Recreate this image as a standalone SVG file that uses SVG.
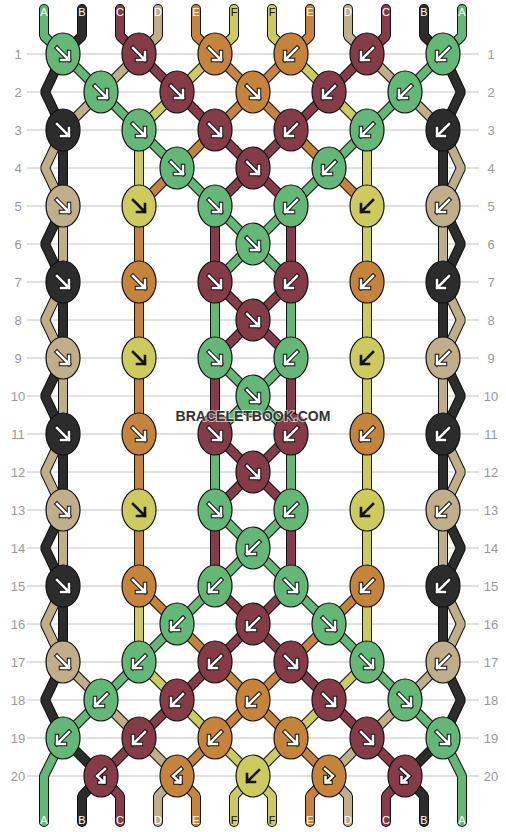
<svg xmlns="http://www.w3.org/2000/svg" xmlns:xlink="http://www.w3.org/1999/xlink" width="506" height="832" viewBox="0 0 506 832">
<style>
.grid line{stroke:#c4c4c4;stroke-width:1}
.rn{font-family:"Liberation Sans",Arial,sans-serif;font-size:13px;fill:#9a9a9a;text-anchor:middle}
.sl{font-family:"Liberation Sans",Arial,sans-serif;font-size:11px;fill:#fff;text-anchor:middle}
.sl.dk{fill:#111}
#connectors{fill:none;stroke-linecap:round;stroke-linejoin:bevel}
.o{stroke:#111;stroke-width:10}
.cA{stroke:#64b877;stroke-width:8}
.cB{stroke:#2c2c2c;stroke-width:8}
.cC{stroke:#853c48;stroke-width:8}
.cD{stroke:#c0ae8a;stroke-width:8}
.cE{stroke:#c6843a;stroke-width:8}
.cF{stroke:#cccb5c;stroke-width:8}
ellipse{stroke:#111;stroke-width:1.2}
.kA{fill:#64b877}.kB{fill:#2c2c2c}.kC{fill:#853c48}.kD{fill:#c0ae8a}.kE{fill:#c6843a}.kF{fill:#cccb5c}
.ao{fill:none;stroke:#111;stroke-width:4.5;stroke-linecap:square}
.aw{fill:none;stroke:#fff;stroke-width:2.5;stroke-linecap:square}
.ak{fill:none;stroke:#111;stroke-width:2.6;stroke-linecap:square}
.wm{font-family:"Liberation Sans",Arial,sans-serif;font-size:14px;font-weight:bold;fill:#333;text-anchor:middle;stroke:#fff;stroke-opacity:0.6;stroke-width:2;paint-order:stroke}
</style>
<defs>
<path id="pf" d="M-6-6L6 6M6-2L6 6L-2 6"/>
<path id="pb" d="M6-6L-6 6M-6-2L-6 6L2 6"/>
<path id="pbf" d="M4-7L-4 0L3 6.5M3.5 1L3.5 6.5L-1.5 6.5"/>
<path id="pfb" d="M-4-7L4 0L-3 6.5M-3.5 1L-3.5 6.5L1.5 6.5"/>
<g id="af"><use xlink:href="#pf" class="ao"/><use xlink:href="#pf" class="aw"/></g>
<g id="ab"><use xlink:href="#pb" class="ao"/><use xlink:href="#pb" class="aw"/></g>
<g id="abf"><use xlink:href="#pbf" class="ao"/><use xlink:href="#pbf" class="aw"/></g>
<g id="afb"><use xlink:href="#pfb" class="ao"/><use xlink:href="#pfb" class="aw"/></g>
<g id="kf"><use xlink:href="#pf" class="ak"/></g>
<g id="kb"><use xlink:href="#pb" class="ak"/></g>
</defs>
<rect width="506" height="832" fill="#fff"/>
<g class="grid">
<line x1="27" y1="54" x2="479" y2="54"/><line x1="27" y1="92" x2="479" y2="92"/><line x1="27" y1="130" x2="479" y2="130"/><line x1="27" y1="168" x2="479" y2="168"/><line x1="27" y1="206" x2="479" y2="206"/><line x1="27" y1="244" x2="479" y2="244"/><line x1="27" y1="282" x2="479" y2="282"/><line x1="27" y1="320" x2="479" y2="320"/><line x1="27" y1="358" x2="479" y2="358"/><line x1="27" y1="396" x2="479" y2="396"/><line x1="27" y1="434" x2="479" y2="434"/><line x1="27" y1="472" x2="479" y2="472"/><line x1="27" y1="510" x2="479" y2="510"/><line x1="27" y1="548" x2="479" y2="548"/><line x1="27" y1="586" x2="479" y2="586"/><line x1="27" y1="624" x2="479" y2="624"/><line x1="27" y1="662" x2="479" y2="662"/><line x1="27" y1="700" x2="479" y2="700"/><line x1="27" y1="738" x2="479" y2="738"/><line x1="27" y1="776" x2="479" y2="776"/>
</g>
<g id="row-numbers">
<text class="rn" x="18" y="59">1</text><text class="rn" x="18" y="97">2</text><text class="rn" x="18" y="135">3</text><text class="rn" x="18" y="173">4</text><text class="rn" x="18" y="211">5</text><text class="rn" x="18" y="249">6</text><text class="rn" x="18" y="287">7</text><text class="rn" x="18" y="325">8</text><text class="rn" x="18" y="363">9</text><text class="rn" x="18" y="401">10</text><text class="rn" x="18" y="439">11</text><text class="rn" x="18" y="477">12</text><text class="rn" x="18" y="515">13</text><text class="rn" x="18" y="553">14</text><text class="rn" x="18" y="591">15</text><text class="rn" x="18" y="629">16</text><text class="rn" x="18" y="667">17</text><text class="rn" x="18" y="705">18</text><text class="rn" x="18" y="743">19</text><text class="rn" x="18" y="781">20</text>
<text class="rn" x="491" y="59">1</text><text class="rn" x="491" y="97">2</text><text class="rn" x="491" y="135">3</text><text class="rn" x="491" y="173">4</text><text class="rn" x="491" y="211">5</text><text class="rn" x="491" y="249">6</text><text class="rn" x="491" y="287">7</text><text class="rn" x="491" y="325">8</text><text class="rn" x="491" y="363">9</text><text class="rn" x="491" y="401">10</text><text class="rn" x="491" y="439">11</text><text class="rn" x="491" y="477">12</text><text class="rn" x="491" y="515">13</text><text class="rn" x="491" y="553">14</text><text class="rn" x="491" y="591">15</text><text class="rn" x="491" y="629">16</text><text class="rn" x="491" y="667">17</text><text class="rn" x="491" y="705">18</text><text class="rn" x="491" y="743">19</text><text class="rn" x="491" y="781">20</text>
</g>
<g id="connectors">
<use xlink:href="#sB" class="o"/>
<g class="cB"><g id="sB">
<path d="M82 9V36L63 54"/><path d="M424 9V36L443 54"/>
<path d="M63 54L45 92L63 130"/><path d="M443 54L461 92L443 130"/>
<path d="M63 130V206"/><path d="M443 130V206"/>
<path d="M63 206L45 244L63 282"/><path d="M443 206L461 244L443 282"/>
<path d="M63 282V358"/><path d="M443 282V358"/>
<path d="M63 358L45 396L63 434"/><path d="M443 358L461 396L443 434"/>
<path d="M63 434V510"/><path d="M443 434V510"/>
<path d="M63 510L45 548L63 586"/><path d="M443 510L461 548L443 586"/>
<path d="M63 586V662"/><path d="M443 586V662"/>
<path d="M63 662L45 700L63 738"/><path d="M443 662L461 700L443 738"/>
<path d="M63 738L101 776"/><path d="M443 738L405 776"/>
<path d="M101 776L82 796V822"/><path d="M405 776L424 796V822"/>
</g></g>
<use xlink:href="#sD" class="o"/>
<g class="cD"><g id="sD">
<path d="M158 9V36L139 54"/><path d="M348 9V36L367 54"/>
<path d="M139 54L101 92"/><path d="M367 54L405 92"/>
<path d="M101 92L63 130"/><path d="M405 92L443 130"/>
<path d="M63 130L45 168L63 206"/><path d="M443 130L461 168L443 206"/>
<path d="M63 206V282"/><path d="M443 206V282"/>
<path d="M63 282L45 320L63 358"/><path d="M443 282L461 320L443 358"/>
<path d="M63 358V434"/><path d="M443 358V434"/>
<path d="M63 434L45 472L63 510"/><path d="M443 434L461 472L443 510"/>
<path d="M63 510V586"/><path d="M443 510V586"/>
<path d="M63 586L45 624L63 662"/><path d="M443 586L461 624L443 662"/>
<path d="M63 662L101 700"/><path d="M443 662L405 700"/>
<path d="M101 700L139 738"/><path d="M405 700L367 738"/>
<path d="M139 738L177 776"/><path d="M367 738L329 776"/>
<path d="M177 776L158 796V822"/><path d="M329 776L348 796V822"/>
</g></g>
<use xlink:href="#sA" class="o"/>
<g class="cA"><g id="sA">
<path d="M44 9V36L63 54"/><path d="M462 9V36L443 54"/>
<path d="M63 54L101 92"/><path d="M443 54L405 92"/>
<path d="M101 92L139 130"/><path d="M405 92L367 130"/>
<path d="M139 130L177 168"/><path d="M367 130L329 168"/>
<path d="M177 168L215 206"/><path d="M329 168L291 206"/>
<path d="M215 206L253 244"/><path d="M291 206L253 244"/><path d="M253 244L215 282"/><path d="M253 244L291 282"/>
<path d="M215 282V358"/><path d="M291 282V358"/>
<path d="M215 358L253 396"/><path d="M291 358L253 396"/><path d="M253 396L215 434"/><path d="M253 396L291 434"/>
<path d="M215 434V510"/><path d="M291 434V510"/>
<path d="M215 510L253 548"/><path d="M291 510L253 548"/><path d="M253 548L215 586"/><path d="M253 548L291 586"/>
<path d="M215 586L177 624"/><path d="M291 586L329 624"/>
<path d="M177 624L139 662"/><path d="M329 624L367 662"/>
<path d="M139 662L101 700"/><path d="M367 662L405 700"/>
<path d="M101 700L63 738"/><path d="M405 700L443 738"/>
<path d="M63 738L44 776V822"/><path d="M443 738L462 776V822"/>
</g></g>
<use xlink:href="#sC" class="o"/>
<g class="cC"><g id="sC">
<path d="M120 9V36L139 54"/><path d="M386 9V36L367 54"/>
<path d="M139 54L177 92"/><path d="M367 54L329 92"/>
<path d="M177 92L215 130"/><path d="M329 92L291 130"/>
<path d="M215 130L253 168"/><path d="M291 130L253 168"/>
<path d="M253 168L215 206"/><path d="M253 168L291 206"/>
<path d="M215 206V282"/><path d="M291 206V282"/>
<path d="M215 282L253 320"/><path d="M291 282L253 320"/><path d="M253 320L215 358"/><path d="M253 320L291 358"/>
<path d="M215 358V434"/><path d="M291 358V434"/>
<path d="M215 434L253 472"/><path d="M291 434L253 472"/><path d="M253 472L215 510"/><path d="M253 472L291 510"/>
<path d="M215 510V586"/><path d="M291 510V586"/>
<path d="M215 586L253 624"/><path d="M291 586L253 624"/><path d="M253 624L215 662"/><path d="M253 624L291 662"/>
<path d="M215 662L177 700"/><path d="M291 662L329 700"/>
<path d="M177 700L139 738"/><path d="M329 700L367 738"/>
<path d="M139 738L101 776"/><path d="M367 738L405 776"/>
<path d="M101 776L120 796V822"/><path d="M405 776L386 796V822"/>
</g></g>
<use xlink:href="#sF" class="o"/>
<g class="cF"><g id="sF">
<path d="M234 9V36L215 54"/><path d="M272 9V36L291 54"/>
<path d="M215 54L177 92"/><path d="M291 54L329 92"/>
<path d="M177 92L139 130"/><path d="M329 92L367 130"/>
<path d="M139 130V206"/><path d="M367 130V206"/>
<path d="M367 206V282"/><path d="M367 282V358"/><path d="M367 358V434"/><path d="M367 434V510"/><path d="M367 510V586"/>
<path d="M139 586V662"/><path d="M367 586V662"/>
<path d="M139 662L177 700"/><path d="M367 662L329 700"/>
<path d="M177 700L215 738"/><path d="M329 700L291 738"/>
<path d="M215 738L253 776"/><path d="M291 738L253 776"/>
<path d="M253 776L234 796V822"/><path d="M253 776L272 796V822"/>
</g></g>
<use xlink:href="#sE" class="o"/>
<g class="cE"><g id="sE">
<path d="M196 9V36L215 54"/><path d="M310 9V36L291 54"/>
<path d="M215 54L253 92"/><path d="M291 54L253 92"/>
<path d="M253 92L215 130"/><path d="M253 92L291 130"/>
<path d="M215 130L177 168"/><path d="M291 130L329 168"/>
<path d="M177 168L139 206"/><path d="M329 168L367 206"/>
<path d="M139 206V282"/><path d="M139 282V358"/><path d="M139 358V434"/><path d="M139 434V510"/><path d="M139 510V586"/>
<path d="M139 586L177 624"/><path d="M367 586L329 624"/>
<path d="M177 624L215 662"/><path d="M329 624L291 662"/>
<path d="M215 662L253 700"/><path d="M291 662L253 700"/>
<path d="M253 700L215 738"/><path d="M253 700L291 738"/>
<path d="M215 738L177 776"/><path d="M291 738L329 776"/>
<path d="M177 776L196 796V822"/><path d="M329 776L310 796V822"/>
</g></g>
</g>
<g id="string-labels">
<text class="sl" x="44" y="16">A</text><text class="sl" x="82" y="16">B</text><text class="sl" x="120" y="16">C</text><text class="sl" x="158" y="16">D</text><text class="sl" x="196" y="16">E</text><text class="sl dk" x="234" y="16">F</text><text class="sl dk" x="272" y="16">F</text><text class="sl" x="310" y="16">E</text><text class="sl" x="348" y="16">D</text><text class="sl" x="386" y="16">C</text><text class="sl" x="424" y="16">B</text><text class="sl" x="462" y="16">A</text>
<text class="sl" x="44" y="824">A</text><text class="sl" x="82" y="824">B</text><text class="sl" x="120" y="824">C</text><text class="sl" x="158" y="824">D</text><text class="sl" x="196" y="824">E</text><text class="sl dk" x="234" y="824">F</text><text class="sl dk" x="272" y="824">F</text><text class="sl" x="310" y="824">E</text><text class="sl" x="348" y="824">D</text><text class="sl" x="386" y="824">C</text><text class="sl" x="424" y="824">B</text><text class="sl" x="462" y="824">A</text>
</g>
<g id="knots">
<g id="k1-1" transform="translate(63 54)"><ellipse class="kA" rx="17" ry="21"/><use xlink:href="#af"/></g>
<g id="k1-2" transform="translate(139 54)"><ellipse class="kC" rx="17" ry="21"/><use xlink:href="#af"/></g>
<g id="k1-3" transform="translate(215 54)"><ellipse class="kE" rx="17" ry="21"/><use xlink:href="#af"/></g>
<g id="k1-4" transform="translate(291 54)"><ellipse class="kE" rx="17" ry="21"/><use xlink:href="#ab"/></g>
<g id="k1-5" transform="translate(367 54)"><ellipse class="kC" rx="17" ry="21"/><use xlink:href="#ab"/></g>
<g id="k1-6" transform="translate(443 54)"><ellipse class="kA" rx="17" ry="21"/><use xlink:href="#ab"/></g>
<g id="k2-1" transform="translate(101 92)"><ellipse class="kA" rx="17" ry="21"/><use xlink:href="#af"/></g>
<g id="k2-2" transform="translate(177 92)"><ellipse class="kC" rx="17" ry="21"/><use xlink:href="#af"/></g>
<g id="k2-3" transform="translate(253 92)"><ellipse class="kE" rx="17" ry="21"/><use xlink:href="#af"/></g>
<g id="k2-4" transform="translate(329 92)"><ellipse class="kC" rx="17" ry="21"/><use xlink:href="#ab"/></g>
<g id="k2-5" transform="translate(405 92)"><ellipse class="kA" rx="17" ry="21"/><use xlink:href="#ab"/></g>
<g id="k3-1" transform="translate(63 130)"><ellipse class="kB" rx="17" ry="21"/><use xlink:href="#af"/></g>
<g id="k3-2" transform="translate(139 130)"><ellipse class="kA" rx="17" ry="21"/><use xlink:href="#af"/></g>
<g id="k3-3" transform="translate(215 130)"><ellipse class="kC" rx="17" ry="21"/><use xlink:href="#af"/></g>
<g id="k3-4" transform="translate(291 130)"><ellipse class="kC" rx="17" ry="21"/><use xlink:href="#ab"/></g>
<g id="k3-5" transform="translate(367 130)"><ellipse class="kA" rx="17" ry="21"/><use xlink:href="#ab"/></g>
<g id="k3-6" transform="translate(443 130)"><ellipse class="kB" rx="17" ry="21"/><use xlink:href="#ab"/></g>
<g id="k4-2" transform="translate(177 168)"><ellipse class="kA" rx="17" ry="21"/><use xlink:href="#af"/></g>
<g id="k4-3" transform="translate(253 168)"><ellipse class="kC" rx="17" ry="21"/><use xlink:href="#af"/></g>
<g id="k4-4" transform="translate(329 168)"><ellipse class="kA" rx="17" ry="21"/><use xlink:href="#ab"/></g>
<g id="k5-1" transform="translate(63 206)"><ellipse class="kD" rx="17" ry="21"/><use xlink:href="#af"/></g>
<g id="k5-2" transform="translate(139 206)"><ellipse class="kF" rx="17" ry="21"/><use xlink:href="#kf"/></g>
<g id="k5-3" transform="translate(215 206)"><ellipse class="kA" rx="17" ry="21"/><use xlink:href="#af"/></g>
<g id="k5-4" transform="translate(291 206)"><ellipse class="kA" rx="17" ry="21"/><use xlink:href="#ab"/></g>
<g id="k5-5" transform="translate(367 206)"><ellipse class="kF" rx="17" ry="21"/><use xlink:href="#kb"/></g>
<g id="k5-6" transform="translate(443 206)"><ellipse class="kD" rx="17" ry="21"/><use xlink:href="#ab"/></g>
<g id="k6-3" transform="translate(253 244)"><ellipse class="kA" rx="17" ry="21"/><use xlink:href="#af"/></g>
<g id="k7-1" transform="translate(63 282)"><ellipse class="kB" rx="17" ry="21"/><use xlink:href="#af"/></g>
<g id="k7-2" transform="translate(139 282)"><ellipse class="kE" rx="17" ry="21"/><use xlink:href="#af"/></g>
<g id="k7-3" transform="translate(215 282)"><ellipse class="kC" rx="17" ry="21"/><use xlink:href="#af"/></g>
<g id="k7-4" transform="translate(291 282)"><ellipse class="kC" rx="17" ry="21"/><use xlink:href="#ab"/></g>
<g id="k7-5" transform="translate(367 282)"><ellipse class="kE" rx="17" ry="21"/><use xlink:href="#ab"/></g>
<g id="k7-6" transform="translate(443 282)"><ellipse class="kB" rx="17" ry="21"/><use xlink:href="#ab"/></g>
<g id="k8-3" transform="translate(253 320)"><ellipse class="kC" rx="17" ry="21"/><use xlink:href="#af"/></g>
<g id="k9-1" transform="translate(63 358)"><ellipse class="kD" rx="17" ry="21"/><use xlink:href="#af"/></g>
<g id="k9-2" transform="translate(139 358)"><ellipse class="kF" rx="17" ry="21"/><use xlink:href="#kf"/></g>
<g id="k9-3" transform="translate(215 358)"><ellipse class="kA" rx="17" ry="21"/><use xlink:href="#af"/></g>
<g id="k9-4" transform="translate(291 358)"><ellipse class="kA" rx="17" ry="21"/><use xlink:href="#ab"/></g>
<g id="k9-5" transform="translate(367 358)"><ellipse class="kF" rx="17" ry="21"/><use xlink:href="#kb"/></g>
<g id="k9-6" transform="translate(443 358)"><ellipse class="kD" rx="17" ry="21"/><use xlink:href="#ab"/></g>
<g id="k10-3" transform="translate(253 396)"><ellipse class="kA" rx="17" ry="21"/><use xlink:href="#af"/></g>
<g id="k11-1" transform="translate(63 434)"><ellipse class="kB" rx="17" ry="21"/><use xlink:href="#af"/></g>
<g id="k11-2" transform="translate(139 434)"><ellipse class="kE" rx="17" ry="21"/><use xlink:href="#af"/></g>
<g id="k11-3" transform="translate(215 434)"><ellipse class="kC" rx="17" ry="21"/><use xlink:href="#af"/></g>
<g id="k11-4" transform="translate(291 434)"><ellipse class="kC" rx="17" ry="21"/><use xlink:href="#ab"/></g>
<g id="k11-5" transform="translate(367 434)"><ellipse class="kE" rx="17" ry="21"/><use xlink:href="#ab"/></g>
<g id="k11-6" transform="translate(443 434)"><ellipse class="kB" rx="17" ry="21"/><use xlink:href="#ab"/></g>
<g id="k12-3" transform="translate(253 472)"><ellipse class="kC" rx="17" ry="21"/><use xlink:href="#af"/></g>
<g id="k13-1" transform="translate(63 510)"><ellipse class="kD" rx="17" ry="21"/><use xlink:href="#af"/></g>
<g id="k13-2" transform="translate(139 510)"><ellipse class="kF" rx="17" ry="21"/><use xlink:href="#kf"/></g>
<g id="k13-3" transform="translate(215 510)"><ellipse class="kA" rx="17" ry="21"/><use xlink:href="#af"/></g>
<g id="k13-4" transform="translate(291 510)"><ellipse class="kA" rx="17" ry="21"/><use xlink:href="#ab"/></g>
<g id="k13-5" transform="translate(367 510)"><ellipse class="kF" rx="17" ry="21"/><use xlink:href="#kb"/></g>
<g id="k13-6" transform="translate(443 510)"><ellipse class="kD" rx="17" ry="21"/><use xlink:href="#ab"/></g>
<g id="k14-3" transform="translate(253 548)"><ellipse class="kA" rx="17" ry="21"/><use xlink:href="#ab"/></g>
<g id="k15-1" transform="translate(63 586)"><ellipse class="kB" rx="17" ry="21"/><use xlink:href="#af"/></g>
<g id="k15-2" transform="translate(139 586)"><ellipse class="kE" rx="17" ry="21"/><use xlink:href="#af"/></g>
<g id="k15-3" transform="translate(215 586)"><ellipse class="kA" rx="17" ry="21"/><use xlink:href="#ab"/></g>
<g id="k15-4" transform="translate(291 586)"><ellipse class="kA" rx="17" ry="21"/><use xlink:href="#af"/></g>
<g id="k15-5" transform="translate(367 586)"><ellipse class="kE" rx="17" ry="21"/><use xlink:href="#ab"/></g>
<g id="k15-6" transform="translate(443 586)"><ellipse class="kB" rx="17" ry="21"/><use xlink:href="#ab"/></g>
<g id="k16-2" transform="translate(177 624)"><ellipse class="kA" rx="17" ry="21"/><use xlink:href="#ab"/></g>
<g id="k16-3" transform="translate(253 624)"><ellipse class="kC" rx="17" ry="21"/><use xlink:href="#ab"/></g>
<g id="k16-4" transform="translate(329 624)"><ellipse class="kA" rx="17" ry="21"/><use xlink:href="#af"/></g>
<g id="k17-1" transform="translate(63 662)"><ellipse class="kD" rx="17" ry="21"/><use xlink:href="#af"/></g>
<g id="k17-2" transform="translate(139 662)"><ellipse class="kA" rx="17" ry="21"/><use xlink:href="#ab"/></g>
<g id="k17-3" transform="translate(215 662)"><ellipse class="kC" rx="17" ry="21"/><use xlink:href="#ab"/></g>
<g id="k17-4" transform="translate(291 662)"><ellipse class="kC" rx="17" ry="21"/><use xlink:href="#af"/></g>
<g id="k17-5" transform="translate(367 662)"><ellipse class="kA" rx="17" ry="21"/><use xlink:href="#af"/></g>
<g id="k17-6" transform="translate(443 662)"><ellipse class="kD" rx="17" ry="21"/><use xlink:href="#ab"/></g>
<g id="k18-1" transform="translate(101 700)"><ellipse class="kA" rx="17" ry="21"/><use xlink:href="#ab"/></g>
<g id="k18-2" transform="translate(177 700)"><ellipse class="kC" rx="17" ry="21"/><use xlink:href="#ab"/></g>
<g id="k18-3" transform="translate(253 700)"><ellipse class="kE" rx="17" ry="21"/><use xlink:href="#ab"/></g>
<g id="k18-4" transform="translate(329 700)"><ellipse class="kC" rx="17" ry="21"/><use xlink:href="#af"/></g>
<g id="k18-5" transform="translate(405 700)"><ellipse class="kA" rx="17" ry="21"/><use xlink:href="#af"/></g>
<g id="k19-1" transform="translate(63 738)"><ellipse class="kA" rx="17" ry="21"/><use xlink:href="#ab"/></g>
<g id="k19-2" transform="translate(139 738)"><ellipse class="kC" rx="17" ry="21"/><use xlink:href="#ab"/></g>
<g id="k19-3" transform="translate(215 738)"><ellipse class="kE" rx="17" ry="21"/><use xlink:href="#ab"/></g>
<g id="k19-4" transform="translate(291 738)"><ellipse class="kE" rx="17" ry="21"/><use xlink:href="#af"/></g>
<g id="k19-5" transform="translate(367 738)"><ellipse class="kC" rx="17" ry="21"/><use xlink:href="#af"/></g>
<g id="k19-6" transform="translate(443 738)"><ellipse class="kA" rx="17" ry="21"/><use xlink:href="#af"/></g>
<g id="k20-1" transform="translate(101 776)"><ellipse class="kC" rx="17" ry="21"/><use xlink:href="#abf"/></g>
<g id="k20-2" transform="translate(177 776)"><ellipse class="kE" rx="17" ry="21"/><use xlink:href="#abf"/></g>
<g id="k20-3" transform="translate(253 776)"><ellipse class="kF" rx="17" ry="21"/><use xlink:href="#kb"/></g>
<g id="k20-4" transform="translate(329 776)"><ellipse class="kE" rx="17" ry="21"/><use xlink:href="#afb"/></g>
<g id="k20-5" transform="translate(405 776)"><ellipse class="kC" rx="17" ry="21"/><use xlink:href="#afb"/></g>
</g>
<text class="wm" x="253" y="421">BRACELETBOOK.COM</text>
</svg>
